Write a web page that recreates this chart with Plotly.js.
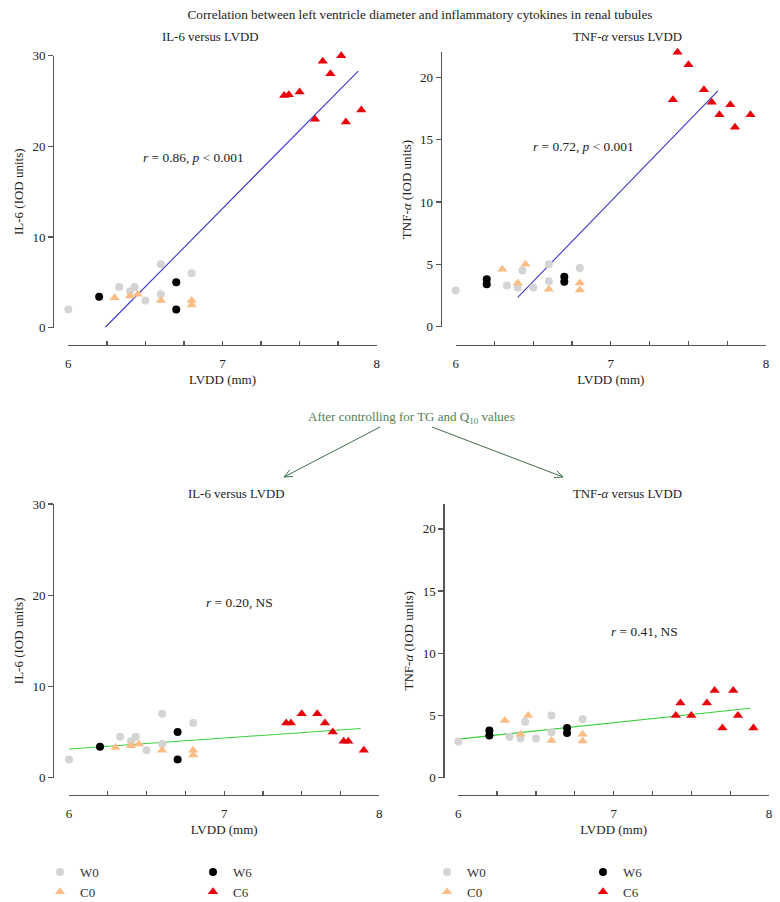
<!DOCTYPE html>
<html><head><meta charset="utf-8">
<script src="https://cdn.plot.ly/plotly-3.0.1.min.js"></script>
<style>html,body{margin:0;padding:0;background:#fff}#chart{width:780px;height:902px}</style>
</head><body><div id="chart"></div>
<script>
const W = 780, H = 902;
const px = v => v / W, py = v => 1 - v / H;

// ---- data ----
const xW0 = [6.00, 6.33, 6.40, 6.43, 6.50, 6.60, 6.60, 6.80];
const il6W0 = [2.0, 4.5, 4.0, 4.5, 3.0, 7.0, 3.7, 6.0];
const tnfW0 = [2.9, 3.3, 3.15, 4.5, 3.15, 5.0, 3.65, 4.7];

const xC0 = [6.30, 6.40, 6.45, 6.60, 6.80, 6.80];
const il6C0 = [3.3, 3.5, 3.7, 3.0, 3.0, 2.5];
const tnfC0 = [4.6, 3.5, 5.0, 3.0, 3.5, 2.95];

const xW6il6 = [6.20, 6.70, 6.70];
const il6W6 = [3.4, 5.0, 2.0];
const xW6tnf = [6.20, 6.20, 6.70, 6.70];
const tnfW6 = [3.8, 3.4, 4.0, 3.6];

const xC6 = [7.40, 7.43, 7.50, 7.60, 7.65, 7.70, 7.77, 7.80, 7.90];
const il6C6 = [25.6, 25.7, 26.0, 23.0, 29.4, 28.0, 30.0, 22.7, 24.0];
const tnfC6 = [18.2, 22.0, 21.0, 19.0, 18.0, 17.0, 17.8, 16.0, 17.0];
const il6C6adj = [6, 6, 7, 7, 6, 5, 4, 4, 3];
const tnfC6adj = [5, 6, 5, 6, 7, 4, 7, 5, 4];

const fitIl6X = [6.24, 7.88], fitIl6Y = [0.05, 28.3];
const fitTnfX = [6.40, 7.69], fitTnfY = [2.35, 18.9];
const fitIl6adjX = [6.0, 7.88], fitIl6adjY = [3.15, 5.4];
const fitTnfadjX = [6.0, 7.88], fitTnfadjY = [3.1, 5.58];

const tickValsX = [6, 7, 8];
const tickLabelsX = ['6', '7', '8'];

// ---- styles ----
const SERIF = "'Liberation Serif', 'Times New Roman', 'DejaVu Serif', serif";
const mk = {
  W0: {symbol: 'circle', color: '#d4d4d4', size: 8},
  C0: {symbol: 'triangle-up', color: '#fbbd84', size: 9},
  W6: {symbol: 'circle', color: '#000000', size: 8},
  C6: {symbol: 'triangle-up', color: '#e8000b', size: 9}
};

function pts(x, y, name, xa, ya, legend, show) {
  return {type: 'scatter', mode: 'markers', x: x, y: y, name: name, xaxis: xa, yaxis: ya,
    marker: mk[name], cliponaxis: false, showlegend: !!show, legend: legend || 'legend', hoverinfo: 'skip'};
}
function fit(x, y, xa, ya, color) {
  return {type: 'scatter', mode: 'lines', x: x, y: y, xaxis: xa, yaxis: ya,
    line: {color: color, width: 1.1}, showlegend: false, hoverinfo: 'skip'};
}

const BLUE = '#3a3acb', GREEN = '#3ccf3c';
const data = [
  fit(fitIl6X, fitIl6Y, 'x', 'y', BLUE),
  pts(xW0, il6W0, 'W0', 'x', 'y'), pts(xC0, il6C0, 'C0', 'x', 'y'),
  pts(xW6il6, il6W6, 'W6', 'x', 'y'), pts(xC6, il6C6, 'C6', 'x', 'y'),
  fit(fitTnfX, fitTnfY, 'x2', 'y2', BLUE),
  pts(xW0, tnfW0, 'W0', 'x2', 'y2'), pts(xC0, tnfC0, 'C0', 'x2', 'y2'),
  pts(xW6tnf, tnfW6, 'W6', 'x2', 'y2'), pts(xC6, tnfC6, 'C6', 'x2', 'y2'),
  fit(fitIl6adjX, fitIl6adjY, 'x3', 'y3', GREEN),
  pts(xW0, il6W0, 'W0', 'x3', 'y3', 'legend', true), pts(xC0, il6C0, 'C0', 'x3', 'y3', 'legend', true),
  pts(xW6il6, il6W6, 'W6', 'x3', 'y3', 'legend2', true), pts(xC6, il6C6adj, 'C6', 'x3', 'y3', 'legend2', true),
  fit(fitTnfadjX, fitTnfadjY, 'x4', 'y4', GREEN),
  pts(xW0, tnfW0, 'W0', 'x4', 'y4', 'legend3', true), pts(xC0, tnfC0, 'C0', 'x4', 'y4', 'legend3', true),
  pts(xW6tnf, tnfW6, 'W6', 'x4', 'y4', 'legend4', true), pts(xC6, tnfC6adj, 'C6', 'x4', 'y4', 'legend4', true)
];

const tickFont = {family: SERIF, size: 13, color: '#222'};
const AXC = '#555';
function xax(d0, d1, pos) {
  return {domain: [px(d0), px(d1)], range: [6, 8], anchor: 'free', position: py(pos),
    showline: true, linecolor: AXC, linewidth: 1.3, ticks: 'inside', ticklen: 4, tickwidth: 1.3, tickcolor: AXC,
    tickvals: tickValsX, ticktext: tickLabelsX, ticklabelstandoff: 6,
    minor: {dtick: 0.25, tick0: 6, ticks: 'inside', ticklen: 4, tickwidth: 1.3, tickcolor: AXC, showgrid: false},
    showgrid: false, zeroline: false, tickfont: tickFont,
    title: {text: 'LVDD (mm)', font: tickFont, standoff: 5}, fixedrange: true};
}
function yax(bot, top, xpos, r, dt, label) {
  return {domain: [py(bot), py(top)], range: [0, r], anchor: 'free', position: px(xpos),
    showline: true, linecolor: AXC, linewidth: 1.3, ticks: 'outside', ticklen: 5, tickwidth: 1.3, tickcolor: AXC,
    dtick: dt, tick0: 0, showgrid: false, zeroline: false, tickfont: tickFont,
    title: {text: label, font: tickFont, standoff: 4}, fixedrange: true};
}

const IL6 = 'IL-6 (IOD units)', TNF = 'TNF-<i>α</i> (IOD units)';
const subFont = {family: SERIF, size: 12.85, color: '#222'};
const rFont = {family: SERIF, size: 13.4, color: '#222'};
function txt(x, y, text, font) {
  return {xref: 'paper', yref: 'paper', x: px(x), y: py(y), text: text, showarrow: false,
    xanchor: 'center', yanchor: 'middle', font: font};
}
const GTXT = '#4e8158', GARR = '#3f6e4a';
// arrows drawn as shapes (shaft + open chevron head)
function arrowShapes(hx, hy, tx, ty) {
  const ang = Math.atan2(ty - hy, tx - hx), L = 9, a = 0.42;
  const p1 = [hx + L * Math.cos(ang + a), hy + L * Math.sin(ang + a)];
  const p2 = [hx + L * Math.cos(ang - a), hy + L * Math.sin(ang - a)];
  const ln = {color: GARR, width: 1};
  const seg = (x0, y0, x1, y1) => ({type: 'line', xref: 'paper', yref: 'paper',
    x0: px(x0), y0: py(y0), x1: px(x1), y1: py(y1), line: ln});
  return [seg(tx, ty, hx, hy), seg(p1[0], p1[1], hx, hy), seg(p2[0], p2[1], hx, hy)];
}

const legFont = {family: SERIF, size: 13, color: '#333'};
function leg(x, y) {
  return {x: px(x), y: py(y), xanchor: 'left', yanchor: 'top', orientation: 'v', font: legFont,
    bgcolor: 'rgba(0,0,0,0)', itemclick: false, itemdoubleclick: false, tracegroupgap: 0};
}

const layout = {
  width: W, height: H, margin: {l: 0, r: 0, t: 0, b: 0, autoexpand: false},
  paper_bgcolor: '#fff', plot_bgcolor: 'rgba(0,0,0,0)',
  title: {text: 'Correlation between left ventricle diameter and inflammatory cytokines in renal tubules',
    font: {family: SERIF, size: 13.25, color: '#222'}, x: px(420), xanchor: 'center', y: py(14), yanchor: 'middle', yref: 'container', xref: 'container'},
  xaxis: xax(68.3, 376.7, 345),
  yaxis: yax(327.7, 55.7, 53, 30, 10, IL6),
  xaxis2: xax(455.7, 766, 345),
  yaxis2: yax(326.7, 52.3, 440.7, 22, 5, TNF),
  xaxis3: xax(69, 379.3, 795),
  yaxis3: yax(777.7, 504, 53, 30, 10, IL6),
  xaxis4: xax(458.3, 769, 795),
  yaxis4: yax(777.7, 504, 443.3, 22, 5, TNF),
  showlegend: true,
  legend: leg(40, 857), legend2: leg(193, 857), legend3: leg(427, 857), legend4: leg(583, 857),
  shapes: [].concat(arrowShapes(284, 477, 380, 427), arrowShapes(563, 477, 432, 427)),
  annotations: [
    txt(210, 37, 'IL-6 versus LVDD', subFont),
    txt(627, 37, 'TNF-<i>α</i> versus LVDD', subFont),
    txt(193, 157, '<i>r</i> = 0.86, <i>p</i> &lt; 0.001', rFont),
    txt(583, 146, '<i>r</i> = 0.72, <i>p</i> &lt; 0.001', rFont),
    txt(411, 417, 'After controlling for TG and Q<sub>10</sub> values', {family: SERIF, size: 13, color: GTXT}),
    txt(237, 494, 'IL-6 versus LVDD', subFont),
    txt(627, 494, 'TNF-<i>α</i> versus LVDD', subFont),
    txt(239, 602, '<i>r</i> = 0.20, NS', rFont),
    txt(644, 631, '<i>r</i> = 0.41, NS', rFont)
  ]
};

Plotly.newPlot('chart', data, layout, {staticPlot: true, displayModeBar: false});
</script>
</body></html>
